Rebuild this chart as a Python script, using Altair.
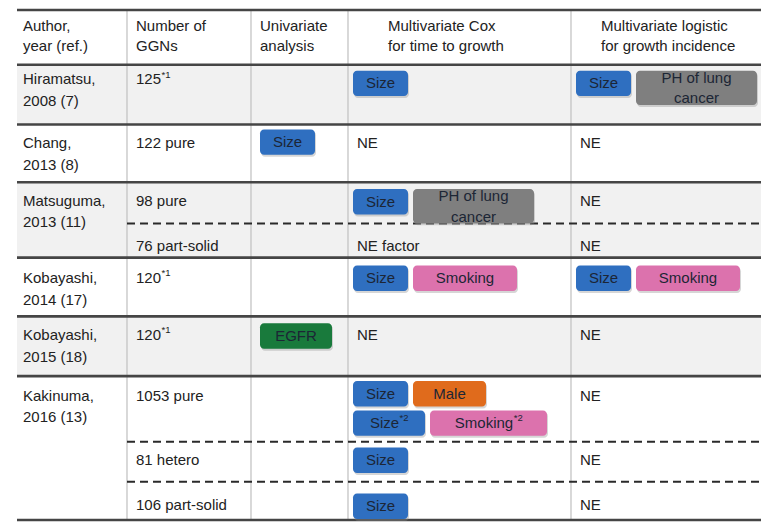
import altair as alt
import pandas as pd

# ---------------- content ----------------
headers = [("Author,", "year (ref.)"), ("Number of", "GGNs"), ("Univariate", "analysis"),
           ("Multivariate Cox", "for time to growth"),
           ("Multivariate logistic", "for growth incidence")]
studies = [("Hiramatsu,", "2008 (7)"), ("Chang,", "2013 (8)"), ("Matsuguma,", "2013 (11)"),
           ("Kobayashi,", "2014 (17)"), ("Kobayashi,", "2015 (18)"), ("Kakinuma,", "2016 (13)")]
sub_study = [0, 1, 2, 2, 3, 4, 5, 5, 5]
ggn_text = ["125", "122 pure", "98 pure", "76 part-solid", "120", "120",
            "1053 pure", "81 hetero", "106 part-solid"]
ggn_sup = ["*1", "", "", "", "*1", "*1", "", "", ""]
univariate = [[], [["Size"]], [], [], [], [["EGFR"]], [], [], []]
cox = [[["Size"]], "NE", [["Size", "PH"]], "NE factor", [["Size", "Smoking"]], "NE",
       [["Size", "Male"], ["Size*2", "Smoking*2"]], [["Size"]], [["Size"]]]
logistic = [[["Size", "PH"]], "NE", "NE", "NE", [["Size", "Smoking"]], "NE", "NE", "NE", "NE"]
factor_label = {"Size": (["Size"], ""), "PH": (["PH of lung", "cancer"], ""),
                "Smoking": (["Smoking"], ""), "EGFR": (["EGFR"], ""), "Male": (["Male"], ""),
                "Size*2": (["Size"], "*2"), "Smoking*2": (["Smoking"], "*2")}

# ---------------- layout / style ----------------
FONT = "Liberation Sans"
FS = 15
SUPFS = 9.5
TXT = "#222222"
BTN_TXT = "#1c2635"
col_lines = [127, 251, 348, 571]
table_left, table_right = 17, 761
top_y = 5
study_edges = [61, 122, 181, 258, 318, 379, 526]
dashed_y = [223, 446, 487]
header_x = [23, 136, 260, 388, 601]
header_y = [21, 42]
text_x = [23, 136, 260, 357, 580]
sub_text_y = [76, 141, 200, 246, 279, 337, 399, 465, 511]
line_gap = 22
btn_x0 = {2: 260, 3: 353, 4: 576}
btn_top = [67, 127, 188, None, 266, 325, 384, 452, 499]
btn_line_gap = 30
btn_gap = 5
btn_w = {"Size": 55, "PH": 121, "Smoking": 104, "EGFR": 72, "Male": 73,
         "Size*2": 72, "Smoking*2": 117}
btn_h = {"PH": 35}
btn_fill = {"Size": "#2f6fc0", "Size*2": "#2f6fc0", "PH": "#7f7f7f", "Smoking": "#dc72ad",
            "Smoking*2": "#dc72ad", "EGFR": "#197a3c", "Male": "#e06b1c"}
row_fill = ["#f1f1f1", "#ffffff", "#f1f1f1", "#ffffff", "#f1f1f1", "#ffffff"]

# Arial-metric character widths (per 1000 em)
cw = {"S": 667, "i": 222, "z": 500, "e": 556, "m": 833, "o": 556, "k": 500, "n": 556,
      "g": 556, "*": 389}
for d in "0123456789":
    cw[d] = 556


def tw(s, fs):
    return sum(cw.get(c, 556) for c in s) * fs / 1000.0


# ---------------- build tables ----------------
bg = [dict(x0=table_left, x1=table_right, y0=top_y, y1=study_edges[0], fill="#ffffff")]
for i in range(len(studies)):
    bg.append(dict(x0=table_left, x1=table_right, y0=study_edges[i], y1=study_edges[i + 1],
                   fill=row_fill[i]))
bg = pd.DataFrame(bg)

hlines = pd.DataFrame([dict(x0=table_left, x1=table_right, y=y) for y in [top_y] + study_edges])
dlines = pd.DataFrame([dict(x0=col_lines[0], x1=table_right, y=y) for y in dashed_y])
vlines = pd.DataFrame([dict(x=x, y0=top_y, y1=study_edges[-1]) for x in col_lines])

texts = []
sups = []
for c, (a, b) in enumerate(headers):
    texts.append(dict(x=header_x[c], y=header_y[0], t=a))
    texts.append(dict(x=header_x[c], y=header_y[1], t=b))
first_sub = {}
for r, s in enumerate(sub_study):
    first_sub.setdefault(s, r)
for s, (a, b) in enumerate(studies):
    y = sub_text_y[first_sub[s]]
    texts.append(dict(x=text_x[0], y=y, t=a))
    texts.append(dict(x=text_x[0], y=y + line_gap, t=b))

buttons = []
btexts = []
bsups = []
for r in range(len(sub_study)):
    y = sub_text_y[r]
    texts.append(dict(x=text_x[1], y=y, t=ggn_text[r]))
    if ggn_sup[r]:
        sups.append(dict(x=text_x[1] + tw(ggn_text[r], FS) + 0.5, y=y - 5, t=ggn_sup[r]))
    for c, cell in ((2, univariate[r]), (3, cox[r]), (4, logistic[r])):
        if isinstance(cell, str):
            texts.append(dict(x=text_x[c], y=y, t=cell))
            continue
        for li, line in enumerate(cell):
            x = btn_x0[c]
            top = btn_top[r] + li * btn_line_gap
            for f in line:
                w = btn_w[f]
                h = btn_h.get(f, 26)
                buttons.append(dict(x0=x, x1=x + w, y0=top, y1=top + h, fill=btn_fill[f]))
                lines, sup = factor_label[f]
                cx = x + w / 2.0
                cy = top + h / 2.0
                n = len(lines)
                for k, ln in enumerate(lines):
                    ly = cy + (k - (n - 1) / 2.0) * 21
                    if sup:
                        tot = tw(ln, FS) + tw(sup, SUPFS)
                        lx = cx - tot / 2.0
                        btexts.append(dict(x=lx + tw(ln, FS) / 2.0, y=ly, t=ln))
                        bsups.append(dict(x=lx + tw(ln, FS) + 0.5, y=ly - 5, t=sup))
                    else:
                        btexts.append(dict(x=cx, y=ly, t=ln))
                x += w + btn_gap

buttons = pd.DataFrame(buttons)
shadow = buttons.copy()
shadow["x0"] += 1
shadow["x1"] += 1
shadow["y0"] += 2
shadow["y1"] += 2
texts = pd.DataFrame(texts)
sups = pd.DataFrame(sups)
btexts = pd.DataFrame(btexts)
bsups = pd.DataFrame(bsups)

# ---------------- chart ----------------
xs = alt.Scale(domain=[8, 761], nice=False, zero=False)
ys = alt.Scale(domain=[3, 528], nice=False, zero=False, reverse=True)


def X(f):
    return alt.X(f + ":Q", scale=xs, axis=None)


def Y(f):
    return alt.Y(f + ":Q", scale=ys, axis=None)


bg_l = alt.Chart(bg).mark_rect().encode(x=X("x0"), x2="x1", y=Y("y0"), y2="y1",
                                        color=alt.Color("fill:N", scale=None))
v_l = alt.Chart(vlines).mark_rule(color="#c4c4c4", strokeWidth=1.3).encode(
    x=X("x"), y=Y("y0"), y2="y1")
h_l = alt.Chart(hlines).mark_rule(color="#454545", strokeWidth=2.6).encode(
    x=X("x0"), x2="x1", y=Y("y"))
d_l = alt.Chart(dlines).mark_rule(color="#2a2a2a", strokeWidth=2, strokeDash=[8, 5]).encode(
    x=X("x0"), x2="x1", y=Y("y"))
sh_l = alt.Chart(shadow).mark_rect(cornerRadius=4, color="#8a8a8a", opacity=0.35).encode(
    x=X("x0"), x2="x1", y=Y("y0"), y2="y1")
b_l = alt.Chart(buttons).mark_rect(cornerRadius=4).encode(
    x=X("x0"), x2="x1", y=Y("y0"), y2="y1", color=alt.Color("fill:N", scale=None))
t_l = alt.Chart(texts).mark_text(align="left", baseline="middle", font=FONT, fontSize=FS,
                                 color=TXT).encode(x=X("x"), y=Y("y"), text="t:N")
s_l = alt.Chart(sups).mark_text(align="left", baseline="middle", font=FONT, fontSize=SUPFS,
                                color=TXT).encode(x=X("x"), y=Y("y"), text="t:N")
bt_l = alt.Chart(btexts).mark_text(align="center", baseline="middle", font=FONT, fontSize=FS,
                                   color=BTN_TXT).encode(x=X("x"), y=Y("y"), text="t:N")
bs_l = alt.Chart(bsups).mark_text(align="left", baseline="middle", font=FONT, fontSize=SUPFS,
                                  color=BTN_TXT).encode(x=X("x"), y=Y("y"), text="t:N")

chart = alt.layer(bg_l, v_l, d_l, h_l, sh_l, b_l, t_l, s_l, bt_l, bs_l).properties(
    width=753, height=514, padding=0, background="#ffffff",
    autosize=alt.AutoSizeParams(type="none")
).configure_view(stroke=None)

chart.save("out.html", embed_options={"renderer": "svg", "actions": False})
